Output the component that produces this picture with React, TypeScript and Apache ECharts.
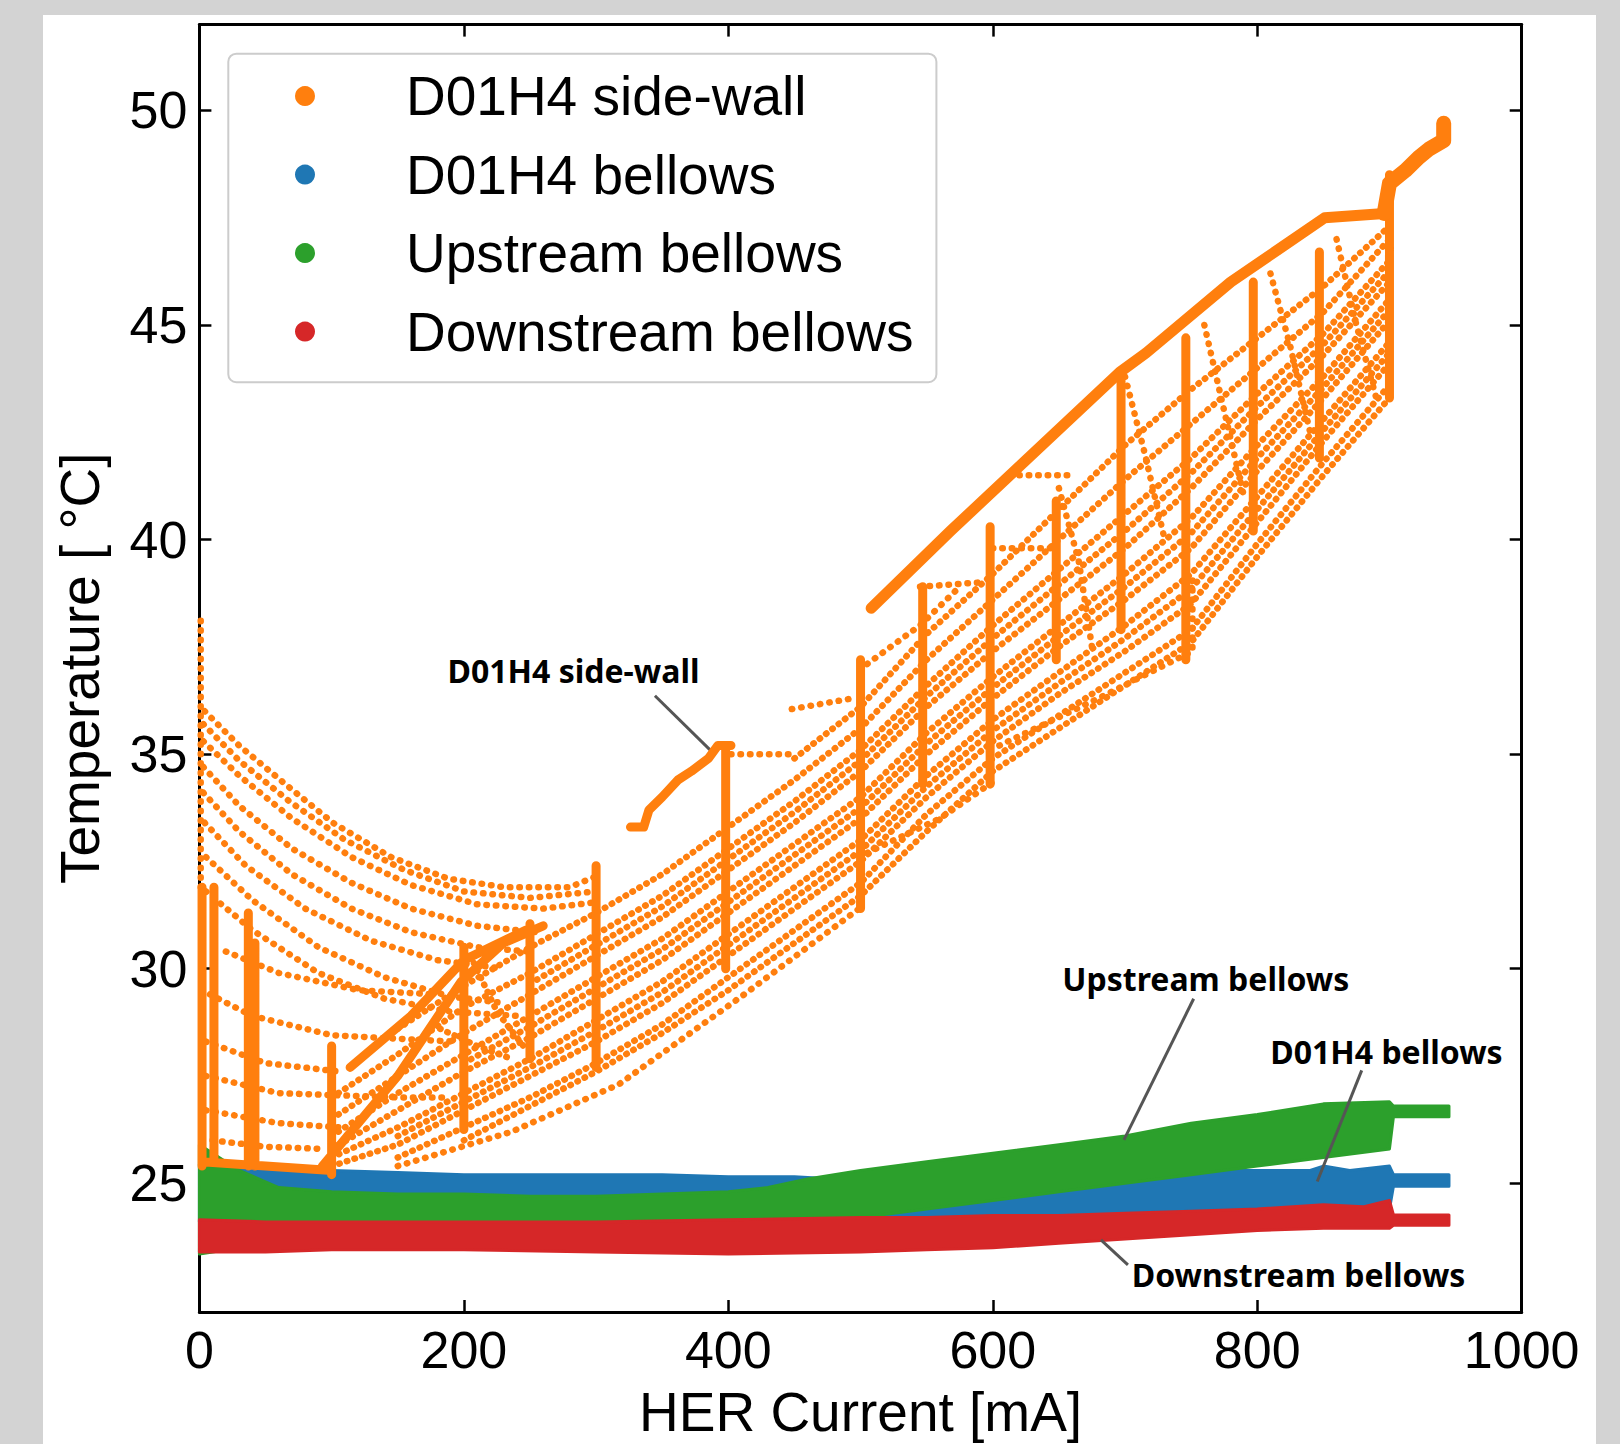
import React, { useEffect, useRef } from 'react';
import * as echarts from 'echarts';

// ---------- names & colours ----------
const SIDE_WALL = 'D01H4 side-wall';
const BELLOWS = 'D01H4 bellows';
const UPSTREAM = 'Upstream bellows';
const DOWNSTREAM = 'Downstream bellows';
const C_ORANGE = '#ff7f0e';
const C_BLUE = '#1f77b4';
const C_GREEN = '#2ca02c';
const C_RED = '#d62728';

// ---------- axes ----------
const xTicks = [0, 200, 400, 600, 800, 1000];
const yTicks = [25, 30, 35, 40, 45, 50];

// ---------- D01H4 side-wall (orange) ----------
// sparse dotted runs (slow decays, terraces)
const sideWallSparseRuns: number[][][] = [
  [[4, 36.0], [30, 35.2], [65, 34.3], [101, 33.4], [145, 32.6], [188, 32.1], [230, 31.9], [280, 31.9], [304, 32.2]],
  [[3, 35.7], [30, 34.85], [68, 33.9], [110, 33.0], [155, 32.3], [200, 31.8], [250, 31.65], [300, 31.8]],
  [[3, 35.3], [30, 34.5], [70, 33.5], [115, 32.6], [160, 31.95], [210, 31.5], [260, 31.4], [300, 31.55]],
  [[3, 34.7], [30, 33.8], [70, 32.8], [115, 32.0], [160, 31.4], [210, 31.0], [255, 30.85]],
  [[3, 34.1], [30, 33.2], [70, 32.2], [115, 31.4], [160, 30.85], [210, 30.5], [250, 30.4]],
  [[4, 33.4], [35, 32.4], [80, 31.4], [130, 30.65], [180, 30.2], [230, 30.0]],
  [[5, 32.6], [40, 31.6], [90, 30.5], [140, 29.8], [190, 29.35], [230, 29.2]],
  [[5, 31.8], [40, 30.9], [90, 29.9], [140, 29.3], [190, 29.0], [240, 28.9]],
  [[20, 30.4], [60, 29.9], [120, 29.5], [180, 29.4]],
  [[8, 29.4], [40, 28.9], [100, 28.45], [193, 28.3]],
  [[5, 28.3], [50, 27.8], [107, 27.6]],
  [[5, 27.5], [60, 27.1], [150, 27.0], [190, 27.0]],
  [[5, 26.7], [60, 26.4], [107, 26.3]],
  [[10, 26.0], [50, 25.85], [95, 25.8]],
  [[1, 31.9], [1, 38.2]],
  [[150, 25.4], [236, 26.2], [317, 27.3], [412, 29.4], [499, 31.4]],
  [[505, 32.7], [560, 33.5], [600, 34.35]],
  [[605, 35.2], [680, 36.3], [751, 37.4], [751, 39.2]],
  [[402, 35.0], [448, 35.0]],
  [[448, 36.05], [494, 36.3]],
  [[505, 37.1], [545, 38.0], [575, 38.9]],
  [[545, 38.9], [590, 39.0]],
  [[600, 39.8], [645, 39.8]],
  [[620, 41.5], [658, 41.5]],
  [[650, 41.2], [665, 39.5], [675, 37.5]],
  [[700, 43.8], [715, 42.0], [730, 40.0]],
  [[760, 45.0], [775, 43.0], [790, 41.0]],
  [[810, 46.2], [825, 44.5], [840, 42.5]],
  [[860, 47.0], [875, 45.0], [890, 43.3]],
];

// dense dotted runs through the main rising band, sampled at bandX
const bandX = [100, 150, 200, 250, 300, 350, 400, 450, 500, 550, 600, 650, 700, 750, 800, 850, 900];
const bandRuns: (number | null)[][] = [
  [null, null, 26.0, 26.8, 27.6, 28.5, 29.5, 30.6, 31.7, 33.2, 34.6, 35.6, 36.6, 37.6, 39.6, 41.5, 43.3],
  [null, 25.6, 26.3, 27.0, 27.8, 28.7, 29.8, 30.9, 32.0, 33.6, 34.9, 35.9, 36.9, 37.9, 39.9, 41.8, 43.6],
  [25.4, 25.9, 26.7, 27.5, 28.3, 29.2, 30.3, 31.4, 32.5, 34.0, 35.3, 36.4, 37.4, 38.5, 40.4, 42.3, 44.1],
  [null, 26.1, 26.9, 27.7, 28.55, 29.45, 30.55, 31.65, 32.75, 34.25, 35.55, 36.65, 37.7, 38.85, 40.7, 42.55, 44.35],
  [25.6, 26.3, 27.1, 27.9, 28.8, 29.7, 30.8, 31.9, 33.0, 34.5, 35.8, 36.9, 38.0, 39.2, 41.0, 42.8, 44.6],
  [25.8, 26.7, 27.6, 28.4, 29.3, 30.2, 31.3, 32.4, 33.5, 35.0, 36.3, 37.5, 38.6, 39.8, 41.6, 43.3, 45.1],
  [null, null, 27.8, 28.65, 29.55, 30.45, 31.55, 32.65, 33.75, 35.25, 36.55, 37.75, 38.9, 40.15, 41.9, 43.55, 45.35],
  [26.1, 27.1, 28.0, 28.9, 29.8, 30.7, 31.8, 32.9, 34.0, 35.5, 36.8, 38.0, 39.2, 40.5, 42.2, 43.8, 45.6],
  [26.5, 27.5, 28.5, 29.4, 30.3, 31.2, 32.3, 33.4, 34.6, 36.1, 37.4, 38.6, 39.8, 41.2, 42.8, 44.3, 46.0],
  [null, null, null, 29.65, 30.55, 31.45, 32.55, 33.65, 34.85, 36.35, 37.7, 38.95, 40.2, 41.55, 43.1, 44.55, 46.25],
  [27.0, 28.0, 29.1, 29.9, 30.8, 31.7, 32.8, 33.9, 35.1, 36.6, 38.0, 39.3, 40.6, 41.9, 43.4, 44.8, 46.5],
  [null, 28.6, 29.6, 30.5, 31.3, 32.2, 33.3, 34.4, 35.6, 37.2, 38.6, 40.0, 41.4, 42.7, 44.0, 45.3, 47.0],
  [null, null, null, null, null, null, null, 34.9, 36.1, 37.8, 39.2, 40.7, 42.2, 43.5, 44.7, 45.9, 47.3],
];
const sideWallDenseExtra: number[][][] = [
  [[182, 28.6], [210, 28.2], [236, 27.9]],
  [[205, 30.3], [225, 29.0], [245, 28.2]],
];

// current-step verticals (dense, look solid)
const stepX = [2, 11, 37, 42, 100, 200, 250, 300, 398, 500, 547, 598, 648, 697, 746, 797, 847, 900];
const stepLow = [25.4, 25.5, 25.4, 25.4, 25.2, 26.25, 27.9, 27.7, 30.0, 31.4, 34.3, 34.3, 37.2, 37.9, 37.2, 40.2, 41.9, 43.3];
const stepHigh = [31.9, 31.9, 31.3, 30.6, 28.2, 30.5, 31.05, 32.4, 35.2, 37.2, 38.9, 40.3, 40.9, 43.7, 44.7, 46.0, 46.7, 48.5];

// other dense (solid-looking) runs
const sideWallSolidRuns: number[][][] = [
  [[326, 33.3], [336, 33.3], [340, 33.7], [350, 34.0], [362, 34.4], [372, 34.6], [385, 34.9], [392, 35.2], [402, 35.2]],
  [[93, 25.4], [150, 27.5], [198, 29.7], [230, 30.6], [260, 31.0]],
  [[114, 27.7], [160, 28.9], [200, 30.2], [247, 30.9]],
  [[2, 25.5], [50, 25.4], [100, 25.3]],
];
const upperDiagonal: number[][] = [[508, 38.4], [568, 40.2], [620, 41.7], [696, 43.9], [716, 44.35], [780, 46.0], [851, 47.5], [896, 47.6]];
const topCluster: number[][] = [[896, 47.6], [900, 48.3], [912, 48.6], [922, 48.9], [930, 49.1], [941, 49.3], [941, 49.7]];

// ---------- bellows bands ----------
const blueX = [0, 20, 50, 100, 150, 200, 250, 300, 350, 400, 450, 480, 500, 550, 600, 650, 700, 750, 780, 800, 840, 850, 870, 900, 903, 945];
const blueUpper = [25.45, 25.35, 25.3, 25.3, 25.25, 25.2, 25.2, 25.2, 25.2, 25.15, 25.15, 25.1, 25.0, 25.0, 25.05, 25.1, 25.2, 25.25, 25.3, 25.3, 25.3, 25.4, 25.3, 25.4, 25.2, 25.2];
const blueLower = [24.1, 24.2, 24.4, 24.5, 24.5, 24.5, 24.5, 24.5, 24.5, 24.5, 24.4, 24.3, 24.2, 24.2, 24.2, 24.2, 24.3, 24.35, 24.4, 24.4, 24.4, 24.4, 24.4, 24.4, 24.93, 24.93];

const greenX = [0, 10, 30, 60, 100, 150, 200, 250, 300, 350, 400, 430, 460, 500, 550, 600, 650, 700, 750, 800, 850, 900, 903, 945];
const greenUpper = [25.9, 25.7, 25.3, 24.9, 24.8, 24.75, 24.75, 24.7, 24.7, 24.75, 24.8, 24.9, 25.1, 25.3, 25.5, 25.7, 25.9, 26.1, 26.4, 26.6, 26.85, 26.9, 26.8, 26.8];
const greenLower = [23.35, 23.4, 23.5, 23.9, 24.0, 24.0, 24.0, 24.05, 24.05, 24.05, 24.1, 24.15, 24.2, 24.2, 24.4, 24.6, 24.8, 25.0, 25.2, 25.4, 25.6, 25.8, 26.55, 26.55];

const redX = [0, 50, 100, 200, 300, 400, 500, 550, 600, 650, 700, 750, 800, 850, 880, 900, 903, 945];
const redUpper = [24.15, 24.1, 24.1, 24.1, 24.1, 24.15, 24.2, 24.2, 24.25, 24.25, 24.3, 24.35, 24.4, 24.5, 24.45, 24.6, 24.26, 24.26];
const redLower = [23.4, 23.4, 23.45, 23.45, 23.4, 23.35, 23.4, 23.45, 23.5, 23.6, 23.7, 23.8, 23.9, 23.95, 23.95, 23.95, 24.02, 24.02];

// ---------- annotations ----------
const annotationTexts = [SIDE_WALL, UPSTREAM, BELLOWS, DOWNSTREAM];
const annotationTextPos = [[282.9, 36.94], [761.1, 29.77], [897.7, 28.08], [831.3, 22.88]];
const annotationLineFrom = [[344.5, 36.36], [751.9, 29.3], [879.0, 27.63], [702.2, 23.1]];
const annotationLineTo = [[388.1, 35.04], [699.2, 26.01], [845.4, 25.04], [681.8, 23.68]];

// ---------- helpers ----------
const BREAK: any = ['-', '-'];
function joinRuns(runs: any[][]): any[] {
  const out: any[] = [];
  runs.forEach((r, i) => {
    if (i > 0) out.push(BREAK);
    r.forEach((p) => out.push(p));
  });
  return out;
}
function bandRunsToPoints(): any[][] {
  return bandRuns.map((ys) => {
    const pts: any[] = [];
    ys.forEach((y, i) => {
      if (y !== null) pts.push([bandX[i], y]);
    });
    return pts;
  });
}
function stepRuns(): any[][] {
  return stepX.map((x, i) => [[x, stepLow[i]], [x, stepHigh[i]]]);
}
function bandSeries(name: string, color: string, xs: number[], up: number[], lo: number[]) {
  return {
    name,
    type: 'custom',
    silent: true,
    itemStyle: { color },
    data: [[xs[0], up[0]]],
    renderItem: (_params: any, api: any) => {
      const pts: number[][] = [];
      for (let i = 0; i < xs.length; i++) pts.push(api.coord([xs[i], up[i]]));
      for (let i = xs.length - 1; i >= 0; i--) pts.push(api.coord([xs[i], lo[i]]));
      return {
        type: 'polygon',
        shape: { points: pts },
        style: { fill: color, stroke: color, lineWidth: 3, lineJoin: 'round' },
      };
    },
  };
}

const FONT = 'Liberation Sans';

function orangeLine(data: any[], width: number, dash?: number[]) {
  return {
    name: SIDE_WALL, type: 'line', color: C_ORANGE, showSymbol: false, symbol: 'none', silent: true,
    connectNulls: false,
    lineStyle: { color: C_ORANGE, width, type: dash || 'solid', cap: 'round', join: 'round' },
    data,
  };
}

function buildOption(): any {
  const axisLine = { show: true, onZero: false, lineStyle: { color: '#000', width: 3 } };
  const axisTickX = { show: true, inside: true, length: 12, lineStyle: { color: '#000', width: 2.5 } };
  const axisTickY = { show: true, inside: true, length: 12, customValues: yTicks, lineStyle: { color: '#000', width: 2.5 } };
  return {
    animation: false,
    backgroundColor: '#ffffff',
    textStyle: { fontFamily: FONT },
    grid: { left: 156.4, right: 74.3, top: 9.6, bottom: 130.2, containLabel: false },
    xAxis: [
      {
        type: 'value', min: 0, max: 1000, interval: 200, position: 'bottom',
        axisLine, axisTick: axisTickX, splitLine: { show: false },
        axisLabel: {
          fontSize: 52, color: '#000', fontFamily: FONT, margin: 12, customValues: xTicks,
          formatter: (v: number) => String(v),
        },
        name: 'HER Current [mA]', nameLocation: 'middle', nameGap: 72,
        nameTextStyle: { fontSize: 55, color: '#000', fontFamily: FONT },
      },
      {
        type: 'value', min: 0, max: 1000, interval: 200, position: 'top',
        axisLine, axisTick: axisTickX, splitLine: { show: false }, axisLabel: { show: false },
      },
    ],
    yAxis: [
      {
        type: 'value', min: 22, max: 52, position: 'left',
        axisLine, axisTick: axisTickY, splitLine: { show: false },
        axisLabel: { fontSize: 52, color: '#000', fontFamily: FONT, margin: 12, customValues: yTicks },
        name: 'Temperature [ °C]', nameLocation: 'middle', nameGap: 92, nameRotate: 90,
        nameTextStyle: { fontSize: 55, color: '#000', fontFamily: FONT },
      },
      {
        type: 'value', min: 22, max: 52, position: 'right',
        axisLine, axisTick: axisTickY, splitLine: { show: false }, axisLabel: { show: false },
      },
    ],
    legend: {
      orient: 'vertical',
      left: 185.3,
      top: 38.7,
      padding: [12.4, 23, 20.6, 66.7],
      itemWidth: 20,
      itemHeight: 20,
      itemGap: 18.5,
      selectedMode: false,
      backgroundColor: 'rgba(255,255,255,0.85)',
      borderColor: '#cccccc',
      borderWidth: 2,
      borderRadius: 8,
      itemStyle: { borderWidth: 0 },
      textStyle: { fontSize: 55, color: '#000', fontFamily: FONT, lineHeight: 60, padding: [0, 0, 0, 86] },
      data: [
        { name: SIDE_WALL, icon: 'circle', itemStyle: { color: C_ORANGE } },
        { name: BELLOWS, icon: 'circle', itemStyle: { color: C_BLUE } },
        { name: UPSTREAM, icon: 'circle', itemStyle: { color: C_GREEN } },
        { name: DOWNSTREAM, icon: 'circle', itemStyle: { color: C_RED } },
      ],
    },
    series: [
      orangeLine(joinRuns(sideWallSparseRuns), 6.5, [0.5, 9]),
      orangeLine(joinRuns([...bandRunsToPoints(), ...sideWallDenseExtra]), 6.5, [0.5, 7.5]),
      orangeLine(joinRuns([...stepRuns(), ...sideWallSolidRuns]), 9),
      orangeLine(upperDiagonal, 11),
      orangeLine(topCluster, 15),
      bandSeries(BELLOWS, C_BLUE, blueX, blueUpper, blueLower),
      bandSeries(UPSTREAM, C_GREEN, greenX, greenUpper, greenLower),
      bandSeries(DOWNSTREAM, C_RED, redX, redUpper, redLower),
      {
        name: 'annotations',
        type: 'custom',
        silent: true,
        data: annotationTextPos,
        renderItem: (params: any, api: any) => {
          const i = params.dataIndex;
          const p = api.coord(annotationTextPos[i]);
          const a = api.coord(annotationLineFrom[i]);
          const b = api.coord(annotationLineTo[i]);
          return {
            type: 'group',
            children: [
              { type: 'line', shape: { x1: a[0], y1: a[1], x2: b[0], y2: b[1] }, style: { stroke: '#555555', lineWidth: 3 } },
              {
                type: 'text', x: p[0], y: p[1],
                style: {
                  text: annotationTexts[i], fill: '#000', fontSize: 32, fontWeight: 'bold', fontFamily: 'Noto Sans',
                  align: 'center', verticalAlign: 'middle',
                },
              },
            ],
          };
        },
      },
    ],
  };
}

export default function App() {
  const ref = useRef<HTMLDivElement>(null);
  useEffect(() => {
    if (!ref.current) return;
    const chart = echarts.init(ref.current, null, { renderer: 'svg' });
    chart.setOption(buildOption());
    return () => chart.dispose();
  }, []);
  return (
    <div style={{ position: 'fixed', left: 0, top: 0, width: 1620, height: 1444, background: '#d3d3d3', overflow: 'hidden' }}>
      <div ref={ref} style={{ position: 'absolute', left: 43, top: 15, width: 1553, height: 1429, background: '#ffffff' }} />
    </div>
  );
}
